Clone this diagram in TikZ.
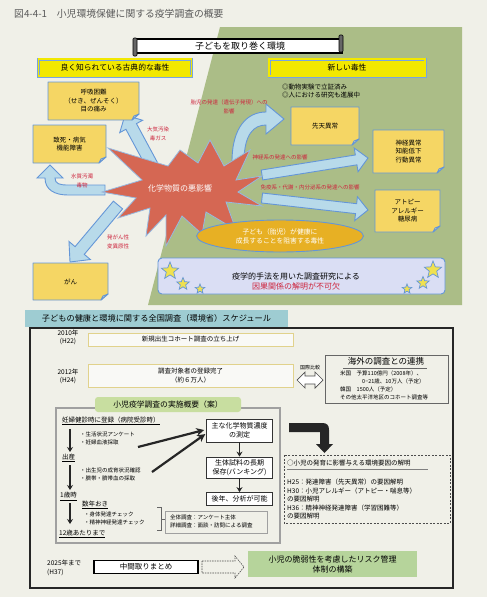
\documentclass[tikz,border=0pt]{standalone}
\usepackage{fontspec}
\setmainfont{Noto Sans CJK JP}
\usetikzlibrary{shapes.geometric,arrows.meta}
\definecolor{bgc}{RGB}{240,240,232}
\definecolor{greenbg}{RGB}{171,189,135}
\definecolor{ttyel}{RGB}{242,232,0}
\definecolor{ttblue}{RGB}{120,165,225}
\definecolor{noteyel}{RGB}{245,214,100}
\definecolor{foldyel}{RGB}{250,235,170}
\definecolor{noteblue}{RGB}{100,150,215}
\definecolor{arrfill}{RGB}{184,218,234}
\definecolor{starred}{RGB}{213,103,83}
\definecolor{staredge}{RGB}{150,185,225}
\definecolor{orng}{RGB}{231,176,36}
\definecolor{lav}{RGB}{218,222,244}
\definecolor{redtxt}{RGB}{205,35,60}
\definecolor{tealc}{RGB}{158,204,210}
\definecolor{tabgreen}{RGB}{200,222,160}
\definecolor{boxgreen}{RGB}{182,212,155}
\definecolor{boxtan}{RGB}{225,210,140}
\definecolor{staryel}{RGB}{240,225,80}
\definecolor{titlegray}{RGB}{90,90,90}
\definecolor{framegray}{RGB}{160,160,160}

\newcommand\notebox[6]{%
  \filldraw[note] (#2,#3) -- (#4,#3) -- (#4,{#5-6}) -- ({#4-7},#5) -- (#2,#5) -- cycle;
  \filldraw[note,fill=foldyel] ({#4-7},#5) -- (#4,{#5-6}) -- ({#4-5},{#5-4}) -- cycle;
  \node[notetxt] (#1) at ({(#2+#4)/2},{(#3+#5)/2}) {#6};}
\newcommand\blockarr[7]{%
  \pgfmathsetmacro\barang{atan2(-(#4-#2),#3-#1)}%
  \pgfmathsetmacro\barlen{veclen(#3-#1,#4-#2)}%
  \begin{scope}[shift={(#1,#2)},rotate=\barang]
    \filldraw[barr] (0,-#5) -- ({\barlen-#7},-#5) -- ({\barlen-#7},-#6) -- (\barlen,0)
      -- ({\barlen-#7},#6) -- ({\barlen-#7},#5) -- (0,#5) -- cycle;
  \end{scope}}

\begin{document}
\begin{tikzpicture}[x=1pt,y=-1pt,
  every node/.style={inner sep=0pt},
  note/.style={draw=noteblue,line width=0.9pt,fill=noteyel,line join=round},
  notetxt/.style={align=center,font=\fontsize{6.5}{8.5}\selectfont},
  redlab/.style={text=redtxt,align=center,font=\fontsize{5.5}{8.5}\selectfont},
  barr/.style={draw=noteblue,line width=0.9pt,fill=arrfill,line join=miter},
  ttbox/.style={draw=ttblue,double=ttyel,double distance=1.4pt,line width=0.8pt,fill=ttyel,font=\fontsize{7.8}{9}\selectfont},
  ystar/.style={star,star points=5,star point ratio=2.3,fill=staryel,draw=noteblue,line width=0.7pt},
  wbox/.style={draw=black!80,line width=0.8pt,fill=white,align=center,font=\fontsize{7}{8.5}\selectfont},
  tanbox/.style={draw=boxtan,line width=0.9pt,fill=white!60!bgc,align=center,font=\fontsize{6.5}{8.5}\selectfont},
  small/.style={font=\fontsize{5.5}{8}\selectfont,anchor=west},
  mid/.style={font=\fontsize{6.5}{8.5}\selectfont,anchor=west},
  darr/.style={-{Stealth[length=5pt,width=6pt]},line width=1.3pt,draw=black!85},
  fatarr/.style={-{Stealth[length=8pt,width=8pt]},line width=2.2pt,draw=black!85},
]
\useasboundingbox (0,0) rectangle (487,597);
\fill[bgc] (0,0) rectangle (487,597);
\node[anchor=west,text=titlegray,font=\fontsize{9.8}{11}\selectfont] (title) at (14,14) {図4-4-1　小児環境保健に関する疫学調査の概要};
\fill[greenbg] (220,27) -- (462,27) -- (462,305) -- (148,305) -- cycle;
% banner
\filldraw[fill=white,draw=black,line width=1.2pt] (135,39) rectangle (342,53);
\filldraw[fill=black!60,draw=black,line width=0.6pt,rounded corners=1pt] (133,38) rectangle (137,56);
\filldraw[fill=black!60,draw=black,line width=0.6pt,rounded corners=1pt] (339,35) rectangle (343,52);
\node[font=\fontsize{9}{10}\selectfont] (banner) at (240,46) {子どもを取り巻く環境};
% title boxes
\node[ttbox,minimum width=153,minimum height=17] (classic) at (115,67.5) {良く知られている古典的な毒性};
\node[ttbox,minimum width=156,minimum height=17] (newtox) at (347,67.5) {新しい毒性};
\node[mid,align=left] (bul) at (282,91) {◎動物実験で立証済み\\◎人における研究も進展中};
% block arrows
\blockarr{152}{165}{125}{115}{6}{13}{13}
\blockarr{118}{205}{70}{262}{6}{14}{15}
\blockarr{262}{175}{368}{158}{5}{12}{12}
\blockarr{262}{198}{368}{210}{5}{12}{12}
\filldraw[barr] (105,185) -- (68,185) .. controls (60,185) and (55,184) .. (55,178) -- (63,178) -- (50,165) -- (37,178) -- (45,178) .. controls (45,190) and (55,195) .. (68,195) -- (105,195) -- cycle;
\filldraw[barr] (232,162) .. controls (232,126) and (248,112) .. (266,112) -- (266,104) -- (284,119) -- (266,134) -- (266,125) .. controls (254,125) and (244,134) .. (244,162) -- cycle;
% starburst
\filldraw[fill=starred,draw=staredge,line width=0.8pt,line join=miter] (262,176) -- (236,180) -- (250,150) -- (224,166) -- (210,140) -- (198,163) -- (180,150) -- (168,166) -- (108,148) -- (142,180) -- (102,192) -- (136,198) -- (118,218) -- (150,208) -- (146,236) -- (166,215) -- (166,246) -- (182,216) -- (202,234) -- (206,212) -- (236,230) -- (226,202) -- (262,206) -- (238,192) -- cycle;
\node[text=white,font=\fontsize{8}{10}\selectfont] (burst) at (180,188) {化学物質の悪影響};
% notes
\notebox{resp}{48}{82}{139}{120}{呼吸困難\\（せき、ぜんそく）\\目の痛み}
\notebox{death}{33}{125}{106}{163}{致死・病気\\機能障害}
\notebox{cong}{291}{107}{359}{145}{先天異常}
\notebox{neuro}{373}{130}{444}{173}{神経異常\\知能低下\\行動異常}
\notebox{atopy}{375}{190}{440}{232}{アトピー\\アレルギー\\糖尿病}
\notebox{cancer}{33}{263}{108}{300}{がん}
% red labels
\node[redlab] (lair) at (158,134) {大気汚染\\毒ガス};
\node[redlab] (lwater) at (82,181) {水質汚濁\\毒物};
\node[redlab] (lcarc) at (118,242) {発がん性\\変異原性};
\node[redlab] (lfetal) at (229,107) {胎児の発達（遺伝子発現）への\\影響};
\node[redlab] (lneuro) at (280,157) {神経系の発達への影響};
\node[redlab] (limmune) at (310,187) {免疫系・代謝・内分泌系の発達への影響};
% ellipse
\node[ellipse,fill=orng,draw=noteblue,line width=0.9pt,minimum width=167,minimum height=32,text=white,align=center,font=\fontsize{6.8}{9}\selectfont] (fetal) at (280,236) {子ども（胎児）が健康に\\成長することを阻害する毒性};
% lavender box
\node[draw=noteblue,line width=0.9pt,fill=lav,rounded corners=4pt,minimum width=287,minimum height=36] (epi) at (301.5,276) {};
\node[align=center,font=\fontsize{8}{10}\selectfont] (epitxt) at (296,281) {疫学的手法を用いた調査研究による\\\textcolor{redtxt}{因果関係の解明が不可欠}};
\node[ystar,minimum size=18] (s1) at (170,271) {};
\node[ystar,minimum size=13] (s2) at (183,284) {};
\node[ystar,minimum size=10] (s3) at (200,289) {};
\node[ystar,minimum size=18] (s4) at (433,270) {};
\node[ystar,minimum size=13] (s5) at (423,283) {};
\node[ystar,minimum size=10] (s6) at (407,289) {};
% ===== lower part
\node[fill=tealc,minimum width=263,minimum height=17,font=\fontsize{8.2}{9}\selectfont] (schedhdr) at (156.5,318.5) {子どもの健康と環境に関する全国調査（環境省）スケジュール};
\draw[line width=1.5pt,draw=black!85] (30,328) rectangle (453,588);
\node[font=\fontsize{6.5}{8.5}\selectfont,align=center] (y2010) at (68,337.5) {2010年\\(H22)};
\node[tanbox,minimum width=205,minimum height=13] (cohort) at (190.5,339.5) {新規出生コホート調査の立ち上げ};
\node[font=\fontsize{6.5}{8.5}\selectfont,align=center] (y2012) at (68,376.5) {2012年\\(H24)};
\node[tanbox,minimum width=205,minimum height=23] (reg) at (190.5,375.5) {調査対象者の登録完了\\（約６万人）};
\node[font=\fontsize{5}{6}\selectfont] (intl) at (310,368) {国際比較};
\filldraw[fill=white,draw=black!70,line width=0.7pt] (297,380) -- (305,372) -- (305,376) -- (315,376) -- (315,372) -- (323,380) -- (315,388) -- (315,384) -- (305,384) -- (305,388) -- cycle;
\draw[draw=black!60,line width=0.8pt] (325,355) rectangle (448,403);
\node[font=\fontsize{8.5}{10}\selectfont] (ovs) at (386,361.5) {海外の調査との連携};
\draw[black!60,line width=0.6pt] (343,368) -- (427,368);
\node[small] (us1) at (340,373) {米国　予算110億円（2008年）、};
\node[small] (us2) at (362,381) {0−21歳、10万人（予定）};
\node[small] (kr) at (340,389) {韓国　1500人（予定）};
\node[small] (oth) at (340,397) {その他太平洋地区のコホート調査等};
% inner box
\draw[framegray,line width=1.2pt] (56,408) rectangle (280,543);
\node[fill=tabgreen,rounded corners=3pt,minimum width=146,minimum height=15,font=\fontsize{7.8}{9}\selectfont] (tab) at (168,404.5) {小児疫学調査の実施概要（案）};
\node[mid] (reg1) at (62,421) {\underline{妊婦健診時に登録（病院受診時）}};
\node[small,align=left] (q1) at (80,438) {・生活状況アンケート\\・妊婦血液採取};
\node[mid] (birth) at (62,458) {\underline{出産}};
\node[small,align=left] (q2) at (80,474.5) {・出生児の成育状況確認\\・臍帯・臍帯血の採取};
\node[mid] (age1) at (60,496.5) {\underline{1歳時}};
\node[mid] (every) at (82,505) {\underline{数年おき}};
\node[small,align=left] (q3) at (84,518) {・身体発達チェック\\・精神神経発達チェック};
\node[mid] (age12) at (59,534) {\underline{12歳あたりまで}};
\coordinate (a1s) at (70,429); \coordinate (a1e) at (70,452);
\coordinate (a2s) at (70,465); \coordinate (a2e) at (70,490);
\coordinate (a3s) at (70,503); \coordinate (a3e) at (70,524);
\draw[darr] (a1s) -- (a1e);
\draw[darr] (a2s) -- (a2e);
\draw[darr] (a3s) -- (a3e);
\node[wbox,minimum width=66,minimum height=23] (meas) at (239.5,430.5) {主な化学物質濃度\\の測定};
\node[wbox,minimum width=66,minimum height=21] (bank) at (239.5,467.5) {生体試料の長期\\保存(バンキング)};
\node[wbox,minimum width=66,minimum height=13] (later) at (239.5,499) {後年、分析が可能};
\draw[darr,line width=1pt] (meas) -- (bank);
\draw[darr,line width=1pt] (bank) -- (later);
\coordinate (d1) at (138,447); \coordinate (d2) at (152,472);
\draw[fatarr,shorten >=2pt] (d1) -- ([yshift=1pt]meas.west);
\draw[fatarr,shorten >=1pt] (d2) -- ([yshift=-3pt]meas.west);
\draw[black!60,line width=0.6pt] (157,507) -- (161,507) -- (161,530) -- (157,530) (161,519) -- (165,519);
\draw[framegray,line width=0.7pt] (165,511) rectangle (267,533);
\node[small,align=left] (survtxt) at (170,521.5) {全体調査：アンケート主体\\詳細調査：面談・訪問による調査};
% bent arrow
\fill[black!85] (289,423) -- (322,423) .. controls (327,423) and (329,425) .. (329,430) -- (329,444) -- (333,444) -- (324.5,453) -- (316,444) -- (320,444) -- (320,432) -- (289,432) -- cycle;
\draw[black!70,line width=0.7pt,dash pattern=on 2pt off 1.5pt] (284,455) rectangle (450,523);
\node[mid] (goal) at (287,463) {○小児の発育に影響与える環境要因の解明};
\draw[black!50,line width=0.5pt] (287,469) -- (428,469);
\node[mid,align=left] (hlist) at (287,499) {H25：発達障害（先天異常）の要因解明\\H30：小児アレルギー（アトピー・喘息等）\\の要因解明\\H36：精神神経発達障害（学習困難等）\\の要因解明};
% bottom
\node[font=\fontsize{6.5}{9}\selectfont,align=left,anchor=west] (y2025) at (47,567.5) {2025年まで\\(H37)};
\node[draw=black,line width=1.8pt,fill=white,minimum width=104,minimum height=13,font=\fontsize{7.5}{9}\selectfont] (interim) at (146,567) {中間取りまとめ};
\draw[black!70,line width=0.6pt,dash pattern=on 1.5pt off 1pt] (202,561) -- (235,561) -- (235,556) -- (244,567) -- (235,578) -- (235,573) -- (202,573) -- cycle;
\node[fill=boxgreen,minimum width=169,minimum height=26,align=center,font=\fontsize{8}{10}\selectfont] (risk) at (332.5,564) {小児の脆弱性を考慮したリスク管理\\体制の構築};
\end{tikzpicture}
\end{document}
